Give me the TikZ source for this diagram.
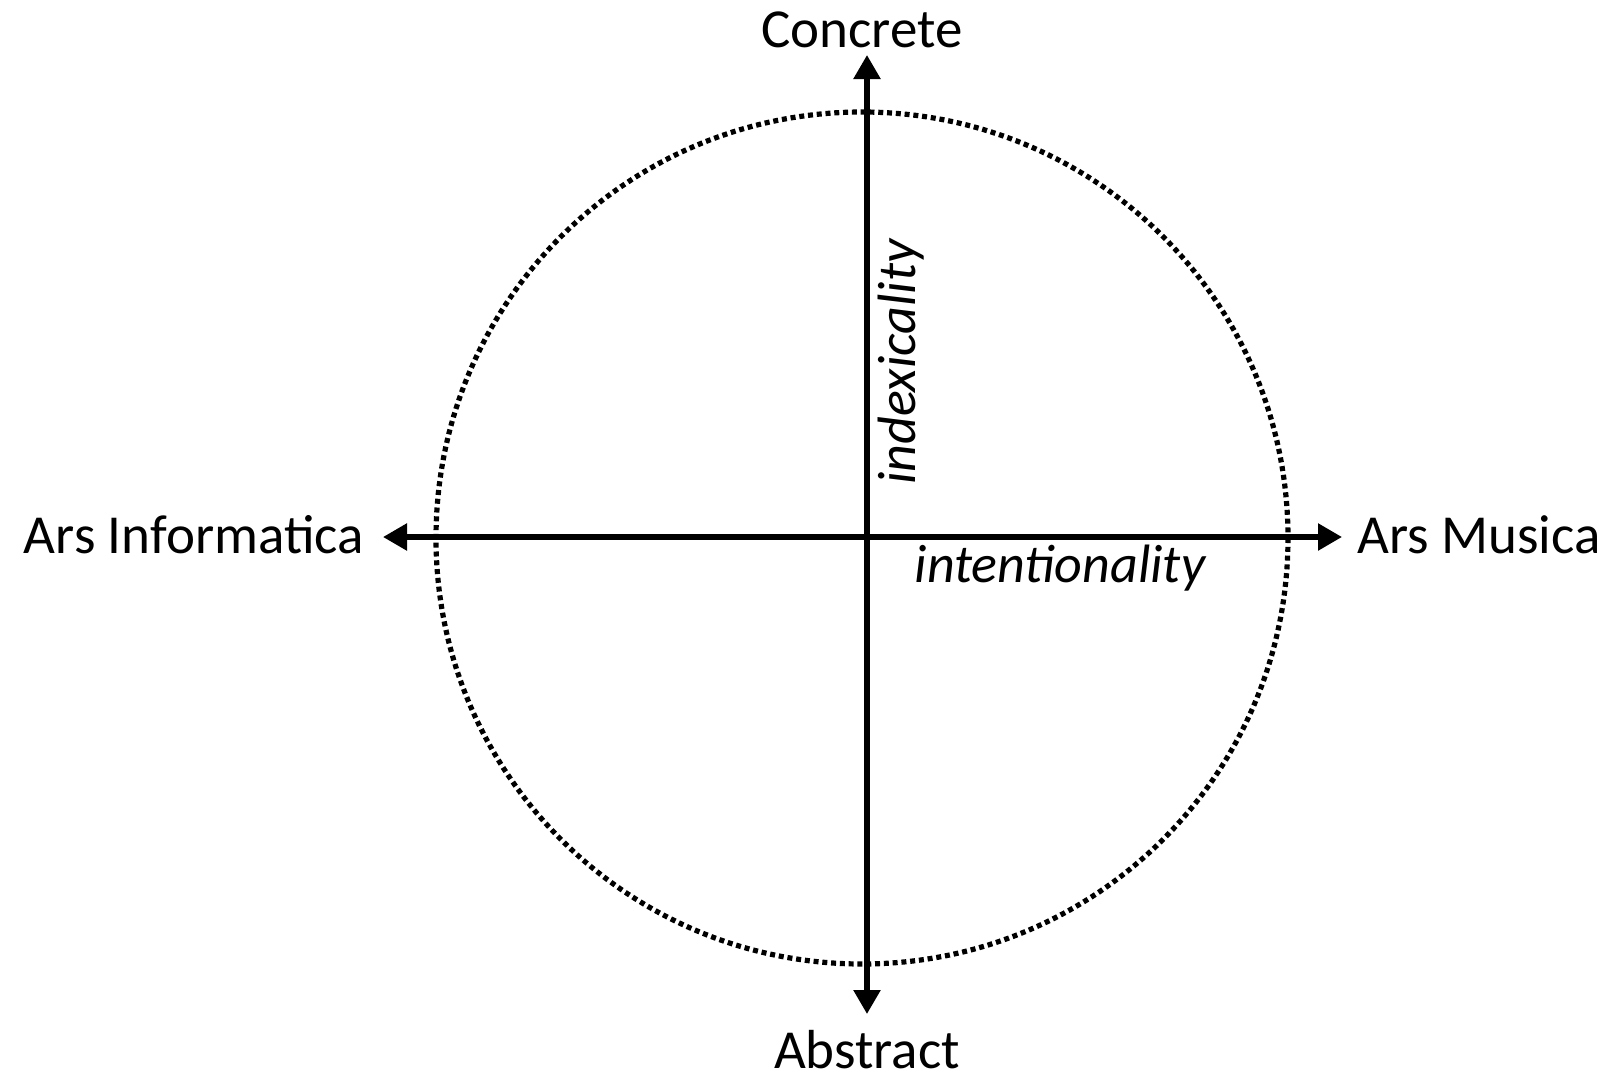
\documentclass[tikz,border=0pt]{standalone}
\usepackage{fontspec}
\setmainfont{Carlito}
\usetikzlibrary{arrows.meta}
\begin{document}
\begin{tikzpicture}[x=1pt,y=-1pt,
  axis/.style={line width=5.5pt,{Triangle[length=24pt,width=26pt]}-{Triangle[length=24pt,width=26pt]}},
  lbl/.style={font=\fontsize{55}{60}\selectfont,inner sep=0pt},
  ital/.style={font=\fontsize{54}{60}\selectfont\itshape,inner sep=0pt},
  dotring/.style={line width=5.2pt,dash pattern=on 5pt off 3.8pt}]
\useasboundingbox (0,0) rectangle (1610,1082);
\coordinate (o) at (867,537);
\coordinate (top) at (867,55);
\coordinate (bot) at (867,1014);
\coordinate (lft) at (383,537);
\coordinate (rgt) at (1342,537);
\draw[dotring] (862,538) circle[radius=426];
\draw[axis] (bot) -- (top);
\draw[axis] (lft) -- (rgt);
\node[lbl,anchor=base] (C) at (862,47) {Concrete};
\node[lbl,anchor=base] (A) at (867,1068) {Abstract};
\node[lbl,anchor=base east] (AI) at (364,553) {Ars Informatica};
\node[lbl,anchor=base west] (AM) at (1357,553) {Ars Musica};
\node[ital,rotate=90,anchor=base] (ix) at (915,362) {indexicality};
\node[ital,anchor=base] (it) at (1060,582) {intentionality};
\end{tikzpicture}
\end{document}
